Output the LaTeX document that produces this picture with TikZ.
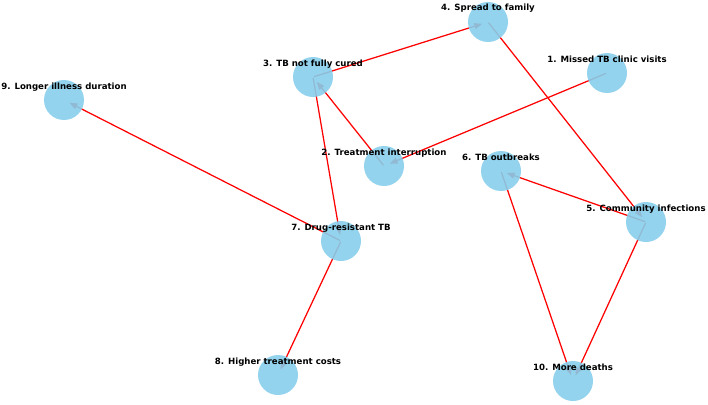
\documentclass[tikz,border=0pt]{standalone}
\usepackage{fontspec}
\newfontfamily\lblfont{DejaVu Sans Bold}
\usetikzlibrary{arrows.meta}
\definecolor{skyb}{RGB}{135,206,235}
\pgfdeclarelayer{edges}
\pgfsetlayers{edges,main}
\tikzset{
  vtx/.style={circle, fill=skyb, fill opacity=0.9, draw=none, minimum size=40pt, inner sep=0pt},
  lbl/.style={anchor=base, inner sep=0pt, font=\lblfont\fontsize{8.6}{10}\selectfont, text=black},
  edge/.style={draw=red, line width=1.25pt, -{Triangle[length=8pt,width=6pt]}, shorten >=6pt, shorten <=1pt}
}
\begin{document}
\begin{tikzpicture}[x=1pt,y=-1pt]
\useasboundingbox (0,0) rectangle (708,404);
\node[vtx] (n1) at (607,73) {};
\node[vtx] (n2) at (384,166) {};
\node[vtx] (n3) at (313,77) {};
\node[vtx] (n4) at (488,22) {};
\node[vtx] (n5) at (646,222) {};
\node[vtx] (n6) at (501,171) {};
\node[vtx] (n7) at (341,241) {};
\node[vtx] (n8) at (278,375) {};
\node[vtx] (n9) at (64,100) {};
\node[vtx] (n10) at (573,381) {};
\begin{pgfonlayer}{edges}
\draw[edge] (n1.center) -- (n2.center);
\draw[edge] (n2.center) -- (n3.center);
\draw[edge] (n3.center) -- (n4.center);
\draw[edge] (n4.center) -- (n5.center);
\draw[edge] (n5.center) -- (n6.center);
\draw[edge] (n6.center) -- (n10.center);
\draw[edge] (n5.center) -- (n10.center);
\draw[edge] (n3.center) -- (n7.center);
\draw[edge] (n7.center) -- (n8.center);
\draw[edge] (n7.center) -- (n9.center);
\end{pgfonlayer}
\node[lbl] (l1) at (607,62) {1. Missed TB clinic visits};
\node[lbl] (l2) at (384,155) {2. Treatment interruption};
\node[lbl] (l3) at (313,66) {3. TB not fully cured};
\node[lbl] (l4) at (488,11) {4. Spread to family};
\node[lbl] (l5) at (646,211) {5. Community infections};
\node[lbl] (l6) at (501,160) {6. TB outbreaks};
\node[lbl] (l7) at (341,230) {7. Drug-resistant TB};
\node[lbl] (l8) at (278,364) {8. Higher treatment costs};
\node[lbl] (l9) at (64,89) {9. Longer illness duration};
\node[lbl] (l10) at (573,370) {10. More deaths};
\end{tikzpicture}
\end{document}
